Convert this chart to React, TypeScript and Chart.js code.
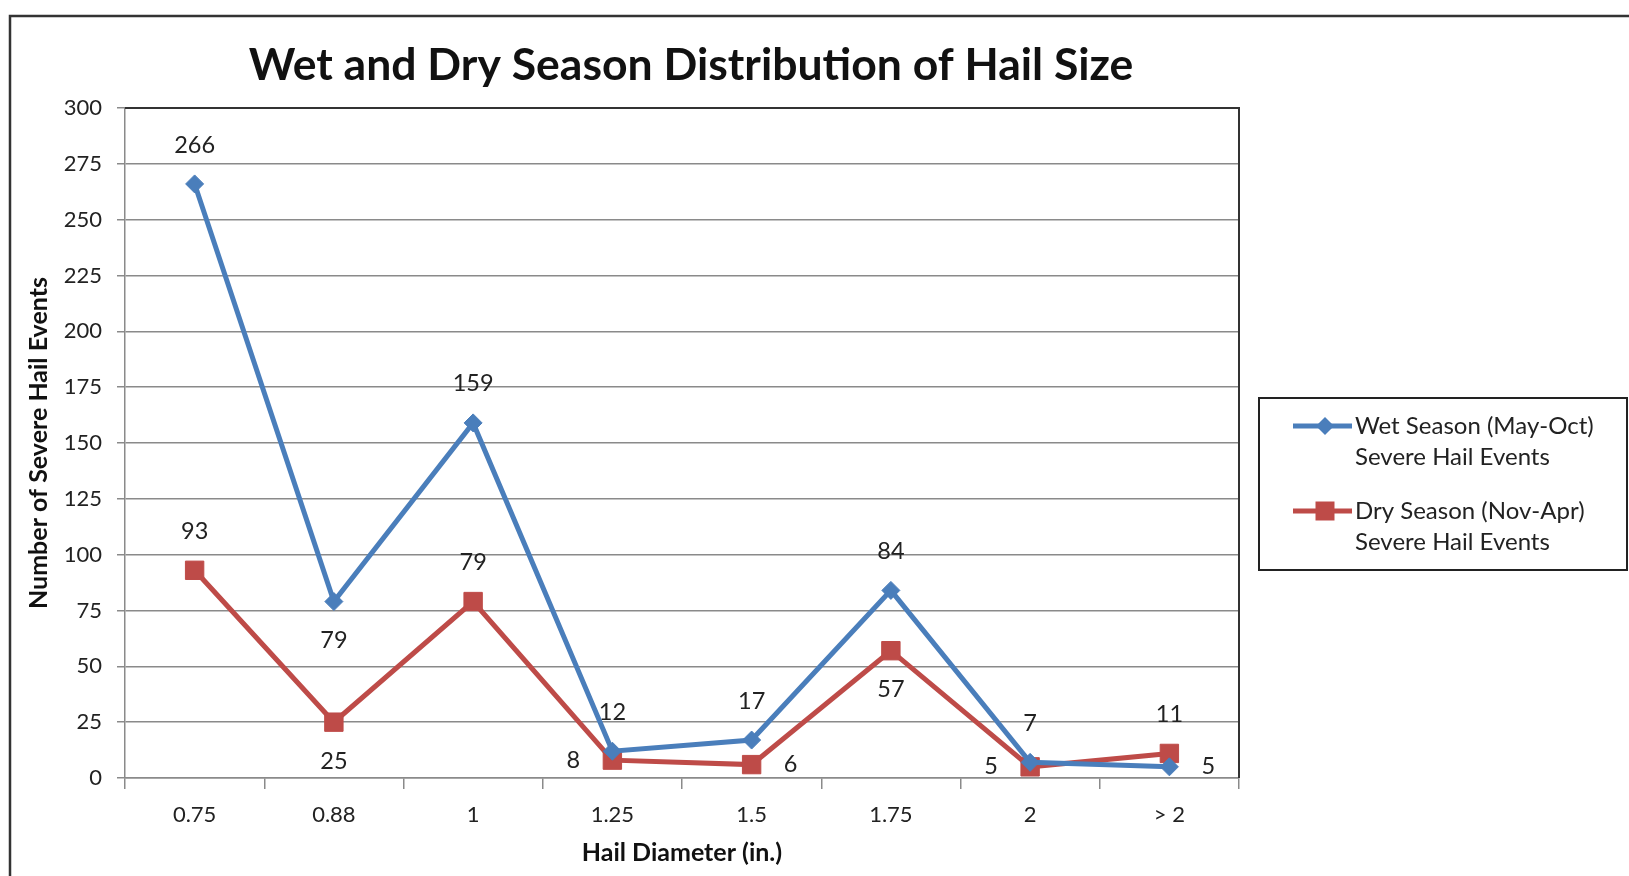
import React, { useEffect, useRef } from 'react';
import { Chart, registerables } from 'chart.js';

Chart.register(...registerables);

const categories = ['0.75', '0.88', '1', '1.25', '1.5', '1.75', '2', '> 2'];
const wetSeason = [266, 79, 159, 12, 17, 84, 7, 5];
const drySeason = [93, 25, 79, 8, 6, 57, 5, 11];
const wetLabelPlacement = ['above', 'below', 'above', 'above', 'above', 'above', 'above', 'right'];
const dryLabelPlacement = ['above', 'below', 'above', 'left', 'right', 'below', 'left', 'above'];
const wetLegend = ['Wet Season (May-Oct)', 'Severe Hail Events'];
const dryLegend = ['Dry Season (Nov-Apr)', 'Severe Hail Events'];
const chartTitle = 'Wet and Dry Season Distribution of Hail Size';
const xTitle = 'Hail Diameter (in.)';
const yTitle = 'Number of Severe Hail Events';

const BLUE = '#4A7EBB';
const RED = '#BE4B48';
const FONT = 'Lato, "Open Sans", sans-serif';
const W = 1629;
const H = 876;

const decorPlugin = {
  id: 'decor',
  beforeDraw(chart: any) {
    const { ctx } = chart;
    ctx.save();
    ctx.fillStyle = '#ffffff';
    ctx.fillRect(0, 0, W, H);
    ctx.restore();
  },
  beforeDatasetsDraw(chart: any) {
    const { ctx, chartArea: a } = chart;
    ctx.save();
    ctx.strokeStyle = '#333333';
    ctx.lineWidth = 2;
    ctx.beginPath();
    ctx.moveTo(a.left, a.top);
    ctx.lineTo(a.right, a.top);
    ctx.lineTo(a.right, a.bottom);
    ctx.stroke();
    ctx.restore();
  },
  afterDraw(chart: any) {
    const { ctx } = chart;
    ctx.save();
    // outer chart border
    ctx.strokeStyle = '#333333';
    ctx.lineWidth = 2.5;
    ctx.beginPath();
    ctx.moveTo(10, H + 5);
    ctx.lineTo(10, 16);
    ctx.lineTo(W + 5, 16);
    ctx.stroke();

    // title
    ctx.fillStyle = '#111111';
    ctx.font = `bold 44.5px ${FONT}`;
    ctx.textAlign = 'center';
    ctx.textBaseline = 'middle';
    ctx.fillText(chartTitle, 691, 66);

    // data labels
    ctx.font = `23.5px ${FONT}`;
    ctx.fillStyle = '#222222';
    const placements = [wetLabelPlacement, dryLabelPlacement];
    const values = [wetSeason, drySeason];
    chart.data.datasets.forEach((ds: any, di: number) => {
      const meta = chart.getDatasetMeta(di);
      meta.data.forEach((pt: any, i: number) => {
        const p = placements[di][i];
        let x = pt.x;
        let y = pt.y;
        const off = 39;
        if (p === 'above') y -= off;
        else if (p === 'below') y += off;
        else if (p === 'left') x -= off;
        else if (p === 'right') x += off;
        ctx.fillText(String(values[di][i]), x, y);
      });
    });

    // legend
    ctx.strokeStyle = '#222222';
    ctx.lineWidth = 2;
    ctx.strokeRect(1259, 398, 368, 172);
    const entries = [
      { color: BLUE, lines: wetLegend, y: 426, style: 'diamond' },
      { color: RED, lines: dryLegend, y: 511, style: 'square' },
    ];
    ctx.font = `24px ${FONT}`;
    ctx.textAlign = 'left';
    entries.forEach((e) => {
      ctx.strokeStyle = e.color;
      ctx.lineWidth = 5;
      ctx.beginPath();
      ctx.moveTo(1293, e.y);
      ctx.lineTo(1352, e.y);
      ctx.stroke();
      ctx.fillStyle = e.color;
      ctx.beginPath();
      if (e.style === 'diamond') {
        ctx.moveTo(1325 - 9, e.y);
        ctx.lineTo(1325, e.y - 9);
        ctx.lineTo(1325 + 9, e.y);
        ctx.lineTo(1325, e.y + 9);
        ctx.closePath();
      } else {
        ctx.rect(1325 - 9.5, e.y - 9.5, 19, 19);
      }
      ctx.fill();
      ctx.fillStyle = '#222222';
      ctx.fillText(e.lines[0], 1355, e.y);
      ctx.fillText(e.lines[1], 1355, e.y + 31);
    });
    ctx.restore();
  },
};

export default function App() {
  const ref = useRef<HTMLCanvasElement>(null);
  useEffect(() => {
    if (!ref.current) return;
    const chart = new Chart(ref.current, {
      type: 'line',
      data: {
        labels: categories,
        datasets: [
          {
            label: wetLegend.join(' '),
            data: wetSeason,
            borderColor: BLUE,
            backgroundColor: BLUE,
            borderWidth: 5,
            pointStyle: 'rectRot',
            pointRadius: 9,
            pointBorderWidth: 1,
            tension: 0,
          },
          {
            label: dryLegend.join(' '),
            data: drySeason,
            borderColor: RED,
            backgroundColor: RED,
            borderWidth: 5,
            pointStyle: 'rect',
            pointRadius: 13,
            pointBorderWidth: 1,
            tension: 0,
          },
        ],
      },
      options: {
        responsive: false,
        animation: false,
        events: [],
        layout: { padding: { left: 0, top: 108, right: W - 1239, bottom: 0 } },
        plugins: {
          legend: { display: false },
          title: { display: false },
          tooltip: { enabled: false },
        },
        scales: {
          x: {
            type: 'category',
            offset: true,
            afterFit: (s: any) => { s.height = H - 778; },
            grid: {
              offset: true,
              drawOnChartArea: false,
              drawTicks: true,
              tickLength: 11,
              color: '#8a8a8a',
              lineWidth: 1.5,
            },
            border: { display: true, color: '#8a8a8a', width: 1.5 },
            ticks: {
              font: { family: FONT, size: 22 },
              color: '#222222',
              padding: 13,
              maxRotation: 0,
              autoSkip: false,
            },
            title: {
              display: true,
              text: xTitle,
              font: { family: FONT, size: 25, weight: 'bold' },
              color: '#111111',
              padding: { top: 0, bottom: 8 },
            },
          },
          y: {
            min: 0,
            max: 300,
            afterFit: (s: any) => { s.width = 125; },
            grid: {
              drawTicks: true,
              tickLength: 8,
              color: '#8a8a8a',
              lineWidth: 1.5,
            },
            border: { display: true, color: '#8a8a8a', width: 1.5 },
            ticks: {
              stepSize: 25,
              font: { family: FONT, size: 22 },
              color: '#222222',
              padding: 15,
            },
            title: {
              display: true,
              text: yTitle,
              font: { family: FONT, size: 25, weight: 'bold' },
              color: '#111111',
              padding: { top: 24, bottom: 0 },
            },
          },
        },
      },
      plugins: [decorPlugin],
    });
    return () => chart.destroy();
  }, []);
  return (
    <div style={{ position: 'absolute', left: 0, top: 0, width: W, height: H, background: '#fff' }}>
      <canvas ref={ref} width={W} height={H} style={{ display: 'block', width: W, height: H }} />
    </div>
  );
}
